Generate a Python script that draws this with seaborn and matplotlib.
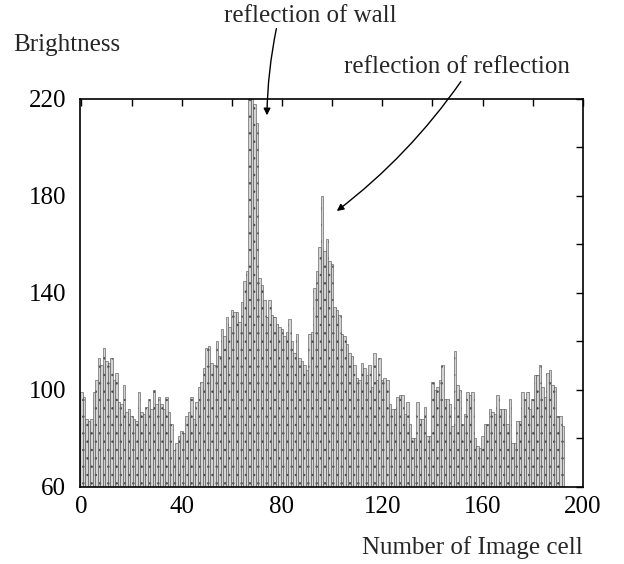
import numpy as np
import pandas as pd
import seaborn as sns
import matplotlib.pyplot as plt
from matplotlib.ticker import FixedLocator, MultipleLocator

# Brightness of each image cell along the scan line
brightness = [
    99, 97, 88, 87, 88, 99, 104, 113, 110, 117,
    112, 111, 113, 104, 107, 95, 94, 102, 91, 92,
    89, 88, 87, 99, 91, 90, 93, 96, 92, 100,
    94, 97, 94, 92, 97, 91, 86, 75, 78, 81,
    83, 82, 89, 91, 97, 88, 95, 101, 103, 109,
    117, 118, 111, 110, 120, 114, 125, 122, 130, 126,
    133, 132, 132, 128, 136, 145, 149, 220, 220, 218,
    210, 146, 143, 137, 130, 137, 131, 130, 127, 126,
    125, 122, 124, 129, 120, 115, 123, 113, 112, 110,
    108, 123, 124, 142, 149, 159, 180, 157, 162, 153,
    152, 134, 133, 131, 123, 122, 119, 115, 114, 110,
    105, 104, 111, 109, 106, 110, 101, 115, 104, 113,
    104, 105, 104, 94, 92, 92, 97, 98, 98, 90,
    95, 86, 80, 80, 95, 88, 88, 93, 81, 81,
    103, 100, 101, 104, 110, 96, 96, 94, 85, 116,
    102, 100, 86, 90, 99, 98, 99, 80, 77, 76,
    81, 86, 86, 92, 91, 90, 98, 92, 92, 92,
    86, 96, 78, 78, 87, 87, 99, 96, 99, 92,
    96, 106, 106, 110, 101, 97, 107, 108, 102, 101,
    89, 89, 85,
]
cells = list(range(len(brightness)))

x_labels = [0, 40, 80, 120, 160, 200]
y_labels = [60, 100, 140, 180, 220]
minor_step = 20

sns.set_theme(style="white")
plt.rcParams['font.family'] = ['Liberation Serif', 'DejaVu Serif']
plt.rcParams['hatch.linewidth'] = 0.5

fig = plt.figure(figsize=(6.24, 5.64), dpi=100)
ax = fig.add_axes([0.128, 0.137, 0.806, 0.688])

df = pd.DataFrame({"cell": cells, "brightness": brightness})
sns.barplot(data=df, x="cell", y="brightness", native_scale=True,
            width=1.0, color="#d4d4d4", saturation=1, edgecolor="#4a4a4a",
            linewidth=0.4, hatch="..", errorbar=None, ax=ax)

ax.set_xlim(-0.6, 200)
ax.set_ylim(60, 220)
ax.xaxis.set_major_locator(FixedLocator(x_labels))
ax.xaxis.set_minor_locator(MultipleLocator(minor_step))
ax.yaxis.set_major_locator(FixedLocator(y_labels))
ax.yaxis.set_minor_locator(MultipleLocator(minor_step))
ax.tick_params(which="both", direction="in", top=True, right=True,
               length=5, width=1, colors="black")
ax.tick_params(axis="x", which="major", labelsize=18, pad=7)
ax.tick_params(axis="y", which="major", labelsize=18, pad=10)
ax.set_xlabel("")
ax.set_ylabel("")
for s in ax.spines.values():
    s.set_color("black")
    s.set_linewidth(1.2)

fig.text(67 / 624, 1 - 45 / 564, "Brightness", ha="center", va="center", fontsize=18)
fig.text(472 / 624, 1 - 548 / 564, "Number of Image cell", ha="center", va="center", fontsize=18)
fig.text(310 / 624, 1 - 16 / 564, "reflection of wall", ha="center", va="center", fontsize=18)
fig.text(457 / 624, 1 - 67 / 564, "reflection of reflection", ha="center", va="center", fontsize=18)

arrow = dict(arrowstyle="-|>", color="black", lw=1.0, mutation_scale=10)
ax.annotate("", xy=(74, 212), xytext=(78, 250), arrowprops=dict(arrow, connectionstyle="arc3,rad=0.05"),
            annotation_clip=False)
ax.annotate("", xy=(101, 173), xytext=(152, 228), arrowprops=dict(arrow, connectionstyle="arc3,rad=-0.08"),
            annotation_clip=False)

fig.savefig("out.png", dpi=100)
